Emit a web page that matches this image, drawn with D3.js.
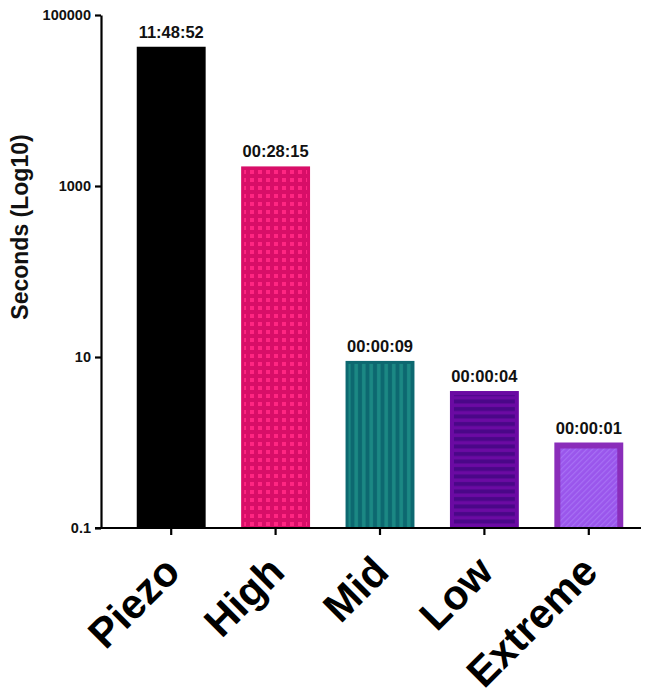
<!DOCTYPE html>
<html><head><meta charset="utf-8">
<script src="https://cdn.jsdelivr.net/npm/d3@7"></script>
<style>body{margin:0;background:#fff}svg{display:block}text{font-family:Arial,"Liberation Sans",sans-serif;font-weight:bold}</style>
</head><body><svg id="c" width="652" height="699"></svg>
<script>
const categories = ["Piezo","High","Mid","Low","Extreme"];
const seconds = [42532, 1695, 9, 4, 1];
const timeLabels = ["11:48:52","00:28:15","00:00:09","00:00:04","00:00:01"];
const yTicks = [0.1, 10, 1000, 100000];
const yTickLabels = ["0.1","10","1000","100000"];
const yTitle = "Seconds (Log10)";

const svg = d3.select("#c");
const defs = svg.append("defs");

// patterns
const pDots = defs.append("pattern").attr("id","dots").attr("patternUnits","userSpaceOnUse").attr("width",8).attr("height",8);
pDots.append("rect").attr("width",8).attr("height",8).attr("fill","#D80E68");
pDots.append("rect").attr("x",2).attr("y",2).attr("width",4).attr("height",4).attr("fill","#FF2682");

const pV = defs.append("pattern").attr("id","vstripe").attr("patternUnits","userSpaceOnUse").attr("width",7.5).attr("height",8);
pV.append("rect").attr("width",7.5).attr("height",8).attr("fill","#0D6870");
pV.append("rect").attr("x",2).attr("width",3.5).attr("height",8).attr("fill","#1B8884");

const pH = defs.append("pattern").attr("id","hstripe").attr("patternUnits","userSpaceOnUse").attr("width",8).attr("height",7.5);
pH.append("rect").attr("width",8).attr("height",7.5).attr("fill","#6B0AA3");
pH.append("rect").attr("y",2).attr("width",8).attr("height",4).attr("fill","#4A0788");

const pD = defs.append("pattern").attr("id","diag").attr("patternUnits","userSpaceOnUse").attr("width",4).attr("height",4)
  .attr("patternTransform","rotate(45)");
pD.append("rect").attr("width",4).attr("height",4).attr("fill","#9A56EC");
pD.append("rect").attr("width",1.2).attr("height",4).attr("fill","#A770F4");

const fills = ["#000000","url(#dots)","url(#vstripe)","url(#hstripe)","url(#diag)"];
const strokes = ["#000000","#D80E68","#0D6870","#6B0AA3","#8A2DBA"];
const strokeW = [0,3,3,4,6];

const x = d3.scaleBand().domain(categories).range([119,641]).padding(0);
const y = d3.scaleLog().domain([0.1,100000]).range([528,15]);
const bw = x.bandwidth()*0.66;

const data = categories.map((c,i)=>({c, v:seconds[i], lab:timeLabels[i], i}));

const bars = svg.append("g");
data.forEach(d=>{
  const x0 = x(d.c)+x.bandwidth()/2 - bw/2;
  const y0 = y(d.v), y1 = y(0.1);
  const sw = strokeW[d.i];
  bars.append("rect").attr("x",x0).attr("y",y0).attr("width",bw).attr("height",y1-y0).attr("fill",strokes[d.i]);
  if(sw>0){
    bars.append("rect").attr("x",x0+sw).attr("y",y0+sw).attr("width",bw-2*sw).attr("height",y1-y0-sw)
      .attr("fill",fills[d.i]);
  }
  svg.append("text").attr("x",x(d.c)+x.bandwidth()/2).attr("y",y0-9).attr("text-anchor","middle")
    .attr("font-size",16.5).attr("fill","#111").text(d.lab);
});

// y axis
const yAxis = d3.axisLeft(y).tickValues(yTicks).tickFormat((d,i)=>yTickLabels[i]).tickSize(6).tickSizeOuter(0).tickPadding(4);
const gy = svg.append("g").attr("transform","translate(101,0)").call(yAxis);
gy.select(".domain").attr("stroke","#000").attr("stroke-width",2.2);
gy.selectAll(".tick line").attr("stroke","#000").attr("stroke-width",2.2);
gy.selectAll(".tick text").attr("font-size",14.5).attr("font-family","Arial, 'Liberation Sans', sans-serif").attr("font-weight","bold").attr("fill","#111");

// x axis
const xAxis = d3.axisBottom(x).tickSize(7).tickSizeOuter(0).tickFormat("");
const gx = svg.append("g").attr("transform","translate(0,528)").call(xAxis);
gx.select(".domain").remove();
gx.append("line").attr("x1",95).attr("x2",641).attr("y1",0).attr("y2",0).attr("stroke","#000").attr("stroke-width",2.2);
gx.selectAll(".tick line").attr("stroke","#000").attr("stroke-width",2.2);

categories.forEach(c=>{
  const cx = x(c)+x.bandwidth()/2;
  svg.append("text").attr("transform",`translate(${cx+11},574) rotate(-45)`).attr("text-anchor","end")
    .attr("font-size",41.5).attr("fill","#000").text(c);
});

svg.append("text").attr("transform","translate(28,227) rotate(-90)").attr("text-anchor","middle")
  .attr("font-size",23).attr("fill","#111").text(yTitle);
</script></body></html>
